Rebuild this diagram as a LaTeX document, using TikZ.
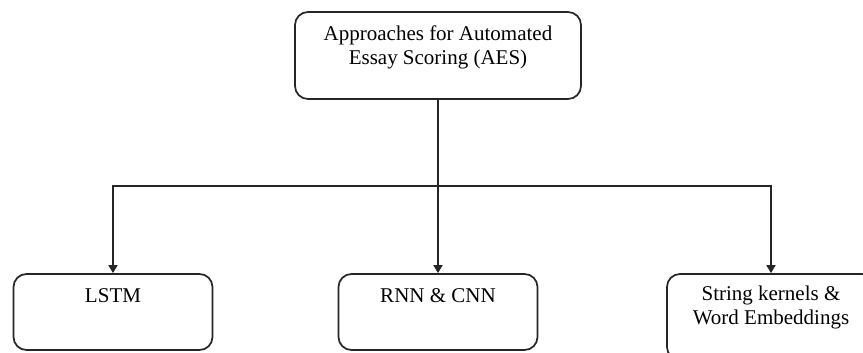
\documentclass[tikz,border=0pt]{standalone}
\usepackage{fontspec}
\setmainfont{Liberation Serif}
\usetikzlibrary{arrows.meta}
\tikzset{
  box/.style={draw=black!85, line width=1.7pt, rounded corners=13pt, fill=white},
  lbl/.style={inner sep=0pt, align=center, anchor=base, text=black,
              font=\fontsize{21}{24}\selectfont},
  conn/.style={draw=black!85, line width=1.6pt},
  arr/.style={conn, -{Triangle[width=9pt,length=8pt]}}
}
\begin{document}
\begin{tikzpicture}[x=1pt, y=-1pt]
  % page frame (also clips the partly hidden right box)
  \clip (0,0) rectangle (863,353);
  \fill[white] (0,0) rectangle (863,353);

  % root box (base anchor of a two-line label sits on its last line)
  \node[box, minimum width=286pt, minimum height=87pt] (root) at (438,55.5) {};
  \node[lbl] (rootlbl) at ([yshift=-53pt]root.north) {Approaches for Automated\\Essay Scoring (AES)};

  % leaf boxes
  \node[box, minimum width=199pt, minimum height=76pt] (lstm) at (113,312) {};
  \node[lbl] (lstmlbl) at ([yshift=-29pt]lstm.north) {LSTM};

  \node[box, minimum width=199pt, minimum height=76pt] (rnn) at (438,312) {};
  \node[lbl] (rnnlbl) at ([yshift=-29pt]rnn.north) {RNN \& CNN};

  \node[box, minimum width=208pt, minimum height=86pt] (str) at (771,317) {};
  \node[lbl] (strlbl) at ([yshift=-51pt]str.north) {String kernels \&\\Word Embeddings};

  % connectors
  \coordinate (split) at (438,186);
  \draw[conn] (root.south) -- (split);
  \draw[arr] (split) -| (lstm.north);
  \draw[arr] (split) -- (rnn.north);
  \draw[arr] (split) -| (str.north);
\end{tikzpicture}
\end{document}
